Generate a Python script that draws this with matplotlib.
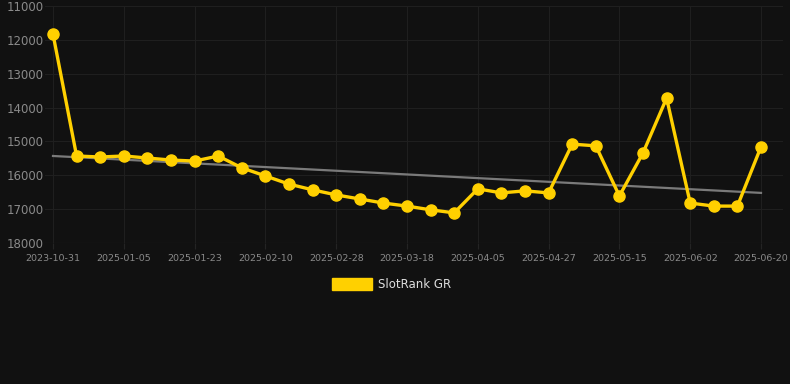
import numpy as np
import matplotlib
matplotlib.use("Agg")
import matplotlib.pyplot as plt
from matplotlib.patches import Rectangle

# dates on the category axis (only every third one is labelled)
dates = [
    "2023-10-31", "2024-12-24", "2024-12-30", "2025-01-05", "2025-01-11",
    "2025-01-17", "2025-01-23", "2025-01-29", "2025-02-04", "2025-02-10",
    "2025-02-16", "2025-02-22", "2025-02-28", "2025-03-06", "2025-03-12",
    "2025-03-18", "2025-03-24", "2025-03-30", "2025-04-05", "2025-04-12",
    "2025-04-20", "2025-04-27", "2025-05-03", "2025-05-09", "2025-05-15",
    "2025-05-21", "2025-05-27", "2025-06-02", "2025-06-08", "2025-06-14",
    "2025-06-20",
]
rank = [
    11830, 15430, 15460, 15430, 15490, 15550, 15580, 15430, 15780, 16020,
    16260, 16430, 16580, 16700, 16820, 16910, 17020, 17110, 16400, 16520,
    16460, 16520, 15080, 15130, 16610, 15340, 13720, 16820, 16910, 16910,
    15160,
]
trend_ends = [15430, 16520]
y_ticks = [11000, 12000, 13000, 14000, 15000, 16000, 17000, 18000]

bg = "#111111"
gold = "#FFD000"

# plot area runs a bit past the first/last point, like the original
left_px, right_px = 45, 783
first_px, last_px = 53, 761
step = (last_px - first_px) / (len(rank) - 1)

fig = plt.figure(figsize=(7.9, 3.84), dpi=100, facecolor=bg)
ax = fig.add_axes([left_px / 790, 1 - 243 / 384, (right_px - left_px) / 790, (243 - 6) / 384])
ax.set_facecolor(bg)

x = np.arange(len(rank))
ax.plot([x[0], x[-1]], trend_ends, color="#7a7a7a", lw=1.6, zorder=2)
ax.plot(x, rank, color=gold, lw=2.4, marker="o", markersize=8,
        markerfacecolor=gold, markeredgecolor=gold, zorder=3, clip_on=False)

ax.set_ylim(18000, 11000)
ax.set_xlim(-(first_px - left_px) / step, len(rank) - 1 + (right_px - last_px) / step)
ax.set_yticks(y_ticks)
ax.set_yticklabels([str(v) for v in y_ticks])
ax.set_xticks(x[::3])
ax.set_xticklabels(dates[::3])

ax.grid(True, color="#1f1f1f", lw=0.8)
ax.set_axisbelow(True)
for s in ax.spines.values():
    s.set_visible(False)
ax.axhline(18000, color="#2a2a2a", lw=0.8, zorder=1)
ax.tick_params(axis="y", colors="#8a8a8a", labelsize=8.5, length=0, pad=1)
ax.tick_params(axis="x", colors="#242424", labelcolor="#8a8a8a", labelsize=6.8,
               length=4, pad=4)

# legend
fig.patches.append(Rectangle((332 / 790, 1 - 290 / 384), 40 / 790, 12 / 384,
                             transform=fig.transFigure, color=gold))
fig.text(378 / 790, 1 - 284 / 384, "SlotRank GR", color="#dddddd",
         fontsize=8.5, va="center", ha="left")

fig.savefig("out.png", dpi=100, facecolor=bg)
